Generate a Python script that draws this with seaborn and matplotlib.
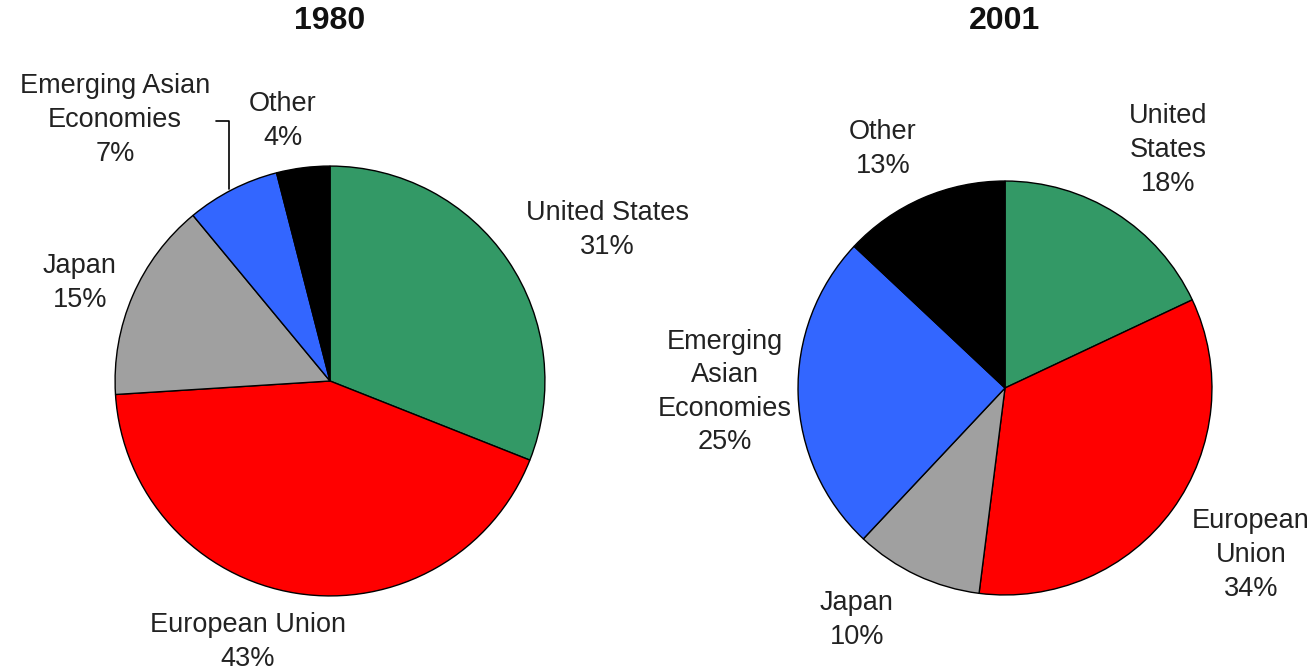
import matplotlib
matplotlib.use("Agg")
import matplotlib.pyplot as plt
from matplotlib.lines import Line2D
import seaborn as sns

sns.set_theme(style="white")
plt.rcParams['font.family'] = ['Liberation Sans', 'DejaVu Sans']

categories = ["United States", "European Union", "Japan", "Emerging Asian Economies", "Other"]
values_1980 = [31, 43, 15, 7, 4]
values_2001 = [18, 34, 10, 25, 13]
colors = ["#339966", "#FF0000", "#A0A0A0", "#3366FF", "#000000"]

labels_1980 = ["United States\n31%", "European Union\n43%", "Japan\n15%",
               "Emerging Asian\nEconomies\n7%", "Other\n4%"]
labels_2001 = ["United\nStates\n18%", "European\nUnion\n34%", "Japan\n10%",
               "Emerging\nAsian\nEconomies\n25%", "Other\n13%"]

W, H = 1313, 670
fig = plt.figure(figsize=(W / 100, H / 100), dpi=100)

def px_axes(cx, cy, r):
    return fig.add_axes([(cx - r) / W, (H - (cy + r)) / H, 2 * r / W, 2 * r / H])

def draw_pie(ax, vals):
    ax.pie(vals, colors=colors, startangle=90, counterclock=False, radius=1,
           wedgeprops=dict(edgecolor="black", linewidth=1.0))
    ax.set_xlim(-1.005, 1.005)
    ax.set_ylim(-1.005, 1.005)
    ax.set_aspect("equal")
    ax.axis("off")

ax1 = px_axes(330, 381, 216)
draw_pie(ax1, values_1980)
ax2 = px_axes(1005, 388, 208)
draw_pie(ax2, values_2001)

def ftext(x, y, s, **kw):
    fig.text(x / W, 1 - y / H, s, ha="center", va="center", multialignment="center",
             fontsize=19.5, color="#222222", linespacing=1.38, **kw)

fig.text(330 / W, 1 - 21 / H, "1980", ha="center", va="center", fontsize=23,
         fontweight="bold", color="#111111")
fig.text(1005 / W, 1 - 21 / H, "2001", ha="center", va="center", fontsize=23,
         fontweight="bold", color="#111111")

pos_1980 = [(607, 230), (248, 642), (80, 283), (115, 120), (283, 121)]
pos_2001 = [(1168, 150), (1251, 555), (857, 620), (725, 392), (883, 149)]
for lab, (x, y) in zip(labels_1980, pos_1980):
    ftext(x, y, lab)
for lab, (x, y) in zip(labels_2001, pos_2001):
    ftext(x, y, lab)

# leader line for Emerging Asian Economies (1980)
xs = [216 / W, 229 / W, 229 / W]
ys = [1 - 121 / H, 1 - 121 / H, 1 - 189 / H]
fig.add_artist(Line2D(xs, ys, color="black", linewidth=1.2))

fig.savefig("out.png", dpi=100, facecolor="white")
